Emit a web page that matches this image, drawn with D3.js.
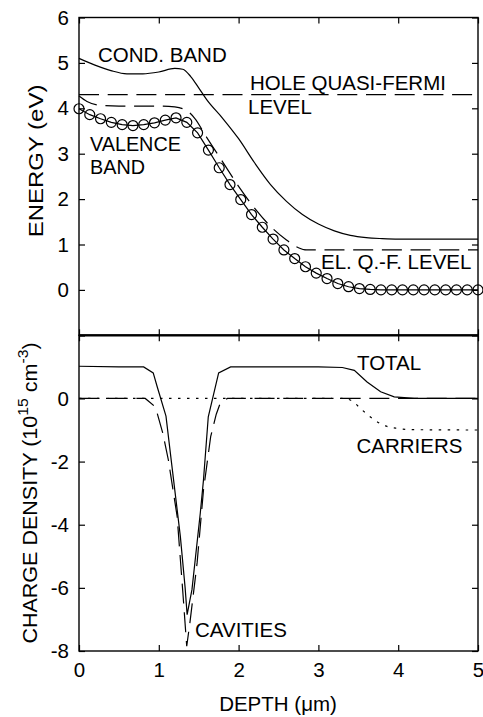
<!DOCTYPE html>
<html><head><meta charset="utf-8">
<script src="https://cdn.jsdelivr.net/npm/d3@7"></script>
<style>
html,body{margin:0;padding:0;background:#fff;}
svg text{font-family:"Liberation Sans",Arial,Helvetica,sans-serif;fill:#000;}
</style></head><body>
<svg id="chart" width="483" height="717"></svg>
<script>
// ---- Energy band diagram (top panel) ----
const depthTicks = [0, 1, 2, 3, 4, 5];
const energyTicks = [-1, 0, 1, 2, 3, 4, 5, 6];
const energyTickLabels = ["", "0", "1", "2", "3", "4", "5", "6"];
const chargeTicks = [-8, -6, -4, -2, 0, 2];
const chargeTickLabels = ["-8", "-6", "-4", "-2", "0", ""];

// conduction band edge
const condDepth = [0, 0.2, 0.4, 0.6, 0.8, 1.0, 1.2, 1.3, 1.4, 1.5, 1.6, 1.8, 2.0, 2.2, 2.4, 2.6, 2.8, 3.0, 3.2, 3.4, 3.6, 3.8, 4.0, 5.0];
const condEnergy = [5.1, 4.95, 4.83, 4.76, 4.76, 4.8, 4.88, 4.86, 4.7, 4.45, 4.19, 3.78, 3.33, 2.8, 2.32, 1.95, 1.66, 1.45, 1.3, 1.2, 1.15, 1.13, 1.12, 1.12];

// hole quasi-Fermi level
const holeQFDepth = [0, 5];
const holeQFEnergy = [4.3, 4.3];

// electron quasi-Fermi level
const elQFDepth = [0, 0.1, 0.25, 0.5, 1.0, 1.2, 1.35, 1.45, 1.6, 1.8, 2.0, 2.2, 2.4, 2.6, 2.75, 2.85, 3.0, 5.0];
const elQFEnergy = [4.27, 4.15, 4.07, 4.05, 4.05, 4.03, 3.95, 3.78, 3.36, 2.82, 2.28, 1.8, 1.4, 1.1, 0.93, 0.88, 0.88, 0.88];

// valence band edge (computed points)
const valDepth = [0, 0.135, 0.270, 0.405, 0.541, 0.676, 0.811, 0.946, 1.081, 1.216, 1.351, 1.486, 1.622, 1.757, 1.892, 2.027, 2.162, 2.297, 2.432, 2.568, 2.703, 2.838, 2.973, 3.108, 3.243, 3.378, 3.514, 3.649, 3.784, 3.919, 4.054, 4.189, 4.324, 4.459, 4.595, 4.730, 4.865, 5.0];
const valEnergy = [3.99, 3.86, 3.77, 3.69, 3.64, 3.62, 3.64, 3.68, 3.74, 3.79, 3.69, 3.46, 3.08, 2.69, 2.32, 1.99, 1.66, 1.38, 1.12, 0.88, 0.69, 0.51, 0.37, 0.25, 0.14, 0.07, 0.03, 0.01, 0, 0, 0, 0, 0, 0, 0, 0, 0, 0];

// ---- Charge density (bottom panel) ----
const totalDepth = [0, 0.5, 0.81, 0.93, 0.98, 1.09, 1.16, 1.27, 1.33, 1.355, 1.416, 1.52, 1.56, 1.62, 1.75, 1.9, 2.5, 3.0, 3.3, 3.45, 3.61, 3.78, 3.95, 4.2, 5.0];
const totalCharge = [1.02, 1.0, 1.0, 0.81, 0.37, -0.56, -2.05, -4.37, -6.0, -6.85, -6.05, -3.63, -2.58, -0.58, 0.81, 1.0, 1.0, 1.0, 0.98, 0.89, 0.52, 0.21, 0.05, 0, 0];

const cavDepth = [0, 0.5, 0.83, 0.93, 0.98, 1.05, 1.12, 1.23, 1.3, 1.35, 1.39, 1.48, 1.56, 1.65, 1.72, 1.77, 1.86, 2.5, 3.5, 5.0];
const cavCharge = [0, 0, 0, -0.21, -0.47, -1.1, -1.95, -3.74, -6.1, -7.85, -7.1, -5.21, -2.9, -1.21, -0.5, -0.15, 0, 0, 0, 0];

const carDepth = [0, 1.0, 2.0, 3.3, 3.4, 3.55, 3.7, 3.84, 3.99, 4.2, 5.0];
const carCharge = [0, 0, 0, 0, -0.05, -0.37, -0.68, -0.87, -0.95, -0.99, -1.0];

const svg = d3.select("#chart");
const FS = 20.5;

const x = d3.scaleLinear().domain([0, 5]).range([79, 478]);
const yTop = d3.scaleLinear().domain([-1, 6]).range([335.3, 17.5]);
const yBot = d3.scaleLinear().domain([-8, 2]).range([651, 335.3]);

const zip = (xs, ys) => xs.map((d, i) => [d, ys[i]]);

function frame(y, yTicks, yLabels, showX) {
  const g = svg.append("g");
  const [x0, x1] = x.range();
  const [yb, yt] = y.range();
  const tickStyle = sel => {
    sel.select(".domain").remove();
    sel.selectAll(".tick line").attr("stroke", "#000").attr("stroke-width", 1.2);
    sel.selectAll("text").attr("font-size", FS).attr("font-family", null);
  };
  g.append("g").attr("transform", `translate(${x0},0)`)
    .call(d3.axisLeft(y).tickValues(yTicks).tickSize(-6).tickPadding(10)
      .tickFormat((d, i) => yLabels[i]))
    .call(tickStyle);
  g.append("g").attr("transform", `translate(${x1},0)`)
    .call(d3.axisRight(y).tickValues(yTicks).tickSize(-6).tickFormat(""))
    .call(tickStyle);
  g.append("g").attr("transform", `translate(0,${yt})`)
    .call(d3.axisTop(x).tickValues(depthTicks).tickSize(-6).tickFormat(""))
    .call(tickStyle);
  g.append("g").attr("transform", `translate(0,${yb})`)
    .call(d3.axisBottom(x).tickValues(depthTicks).tickSize(-6).tickPadding(11.5)
      .tickFormat(showX ? d3.format("d") : ""))
    .call(tickStyle);
  g.append("rect").attr("x", x0).attr("y", yt).attr("width", x1 - x0).attr("height", yb - yt)
    .attr("fill", "none").attr("stroke", "#000").attr("stroke-width", 1.4);
}

frame(yTop, energyTicks, energyTickLabels, false);
frame(yBot, chargeTicks, chargeTickLabels, true);

// heavier rule where the two panels meet
svg.append("line").attr("x1", x(0)).attr("x2", x(5))
  .attr("y1", yTop(-1)).attr("y2", yTop(-1))
  .attr("stroke", "#000").attr("stroke-width", 2.2);

function curve(y, xs, ys, dash, kind) {
  const line = d3.line().x(d => x(d[0])).y(d => y(d[1]))
    .curve(kind === "linear" ? d3.curveLinear : d3.curveMonotoneX);
  svg.append("path").datum(zip(xs, ys)).attr("d", line)
    .attr("fill", "none").attr("stroke", "#000").attr("stroke-width", 1.2)
    .attr("stroke-dasharray", dash || null);
}

// top panel curves
curve(yTop, condDepth, condEnergy, null);
curve(yTop, holeQFDepth, holeQFEnergy, "20,8.7", "linear");
curve(yTop, elQFDepth, elQFEnergy, "20,8.7");
curve(yTop, valDepth, valEnergy, null, "linear");
svg.append("g").selectAll("circle").data(zip(valDepth, valEnergy)).join("circle")
  .attr("cx", d => x(d[0])).attr("cy", d => yTop(d[1])).attr("r", 5)
  .attr("fill", "none").attr("stroke", "#000").attr("stroke-width", 1.2);

// bottom panel curves
curve(yBot, carDepth, carCharge, "2.5,6.5");
curve(yBot, cavDepth, cavCharge, "20,8.7", "linear");
curve(yBot, totalDepth, totalCharge, null, "linear");

// annotations
const notes = [
  ["COND. BAND", 98, 62, FS],
  ["HOLE QUASI-FERMI", 250, 89.5, FS],
  ["LEVEL", 248, 114, FS],
  ["VALENCE", 90, 151, 19.8],
  ["BAND", 90, 173.5, 19.8],
  ["EL. Q.-F. LEVEL", 321, 269.3, FS],
  ["TOTAL", 357, 370, FS],
  ["CARRIERS", 356.5, 452.7, FS],
  ["CAVITIES", 195, 636.7, FS]
];
svg.append("g").selectAll("text").data(notes).join("text")
  .attr("x", d => d[1]).attr("y", d => d[2]).attr("font-size", d => d[3]).text(d => d[0]);

// axis titles
svg.append("text").attr("x", 278).attr("y", 711).attr("text-anchor", "middle")
  .attr("font-size", FS).text("DEPTH (μm)");

svg.append("text").attr("transform", "translate(43,161) rotate(-90) scale(1.17,1)")
  .attr("text-anchor", "middle").attr("font-size", FS).text("ENERGY (eV)");

const cd = svg.append("text").attr("transform", "translate(36.7,493) rotate(-90) scale(1.05,1)")
  .attr("text-anchor", "middle").attr("font-size", FS);
cd.append("tspan").text("CHARGE DENSITY (10");
cd.append("tspan").attr("font-size", 15).attr("dy", -9).text("15");
cd.append("tspan").attr("dy", 9).text(" cm");
cd.append("tspan").attr("font-size", 15).attr("dy", -9).text("-3");
cd.append("tspan").attr("dy", 9).text(")");
</script>
</body></html>
